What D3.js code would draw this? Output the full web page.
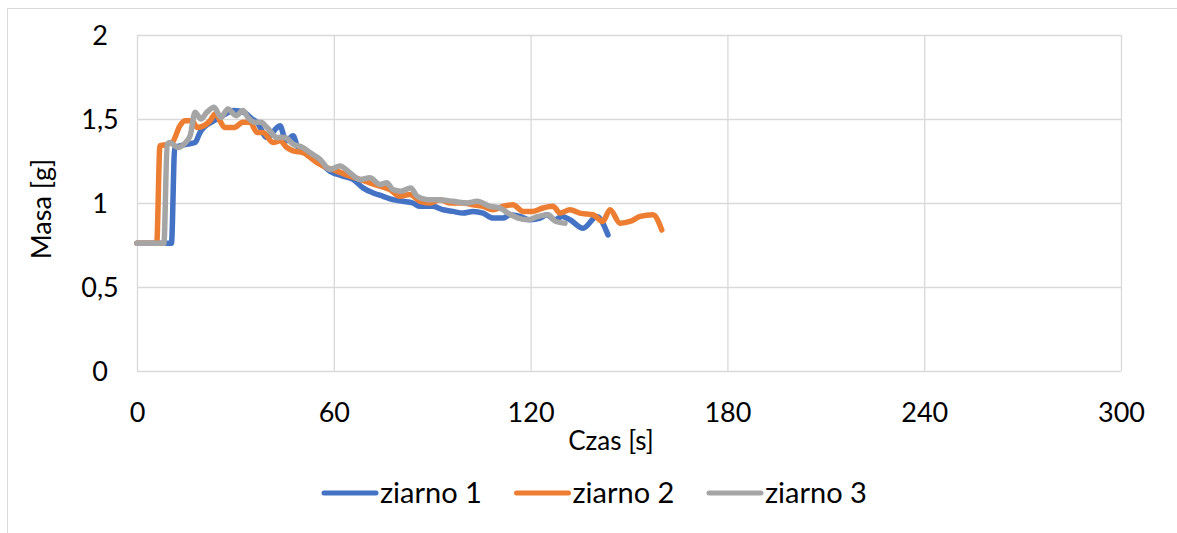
<!DOCTYPE html>
<html>
<head>
<meta charset="utf-8">
<script src="https://cdn.jsdelivr.net/npm/d3@7"></script>
<style>
  html, body { margin: 0; padding: 0; background: #fff; }
  svg { display: block; }
  text { font-family: Lato, "Open Sans", sans-serif; fill: #000; }
</style>
</head>
<body>
<svg id="chart" width="1177" height="533"></svg>
<script>
// Masa ziarna w funkcji czasu — pomiary [czas s, masa g]
const ziarno1 = [[0,0.76],[10.5,0.76],[11.5,1.33],[13.1,1.34],[15.2,1.35],[17.7,1.36],[19.2,1.42],[20.4,1.45],[23.5,1.49],[25.3,1.51],[29.6,1.55],[32.6,1.54],[35.1,1.50],[36.6,1.48],[39.6,1.39],[43.6,1.46],[45.4,1.37],[47.6,1.40],[49.1,1.33],[51.8,1.31],[54.9,1.26],[58.8,1.19],[62.8,1.16],[65.9,1.14],[68.9,1.09],[72,1.06],[75,1.04],[78,1.02],[81.1,1.01],[84.1,1.00],[86.3,0.98],[90.2,0.98],[93.3,0.96],[96.3,0.95],[99.4,0.94],[102.4,0.95],[105.5,0.94],[108.5,0.91],[111.6,0.91],[113.7,0.93],[116.8,0.92],[119.8,0.90],[122.9,0.91],[125,0.93],[127.4,0.90],[129.6,0.92],[132,0.90],[136,0.85],[140.2,0.92],[143.6,0.81]];
const ziarno2 = [[0,0.76],[6,0.76],[7,1.34],[8.2,1.345],[10.7,1.36],[13.1,1.46],[14.6,1.49],[16.8,1.49],[18.3,1.45],[20.4,1.46],[22.3,1.49],[23.8,1.53],[26.8,1.45],[29.6,1.45],[32.3,1.48],[34.5,1.48],[36.6,1.42],[38.4,1.42],[41.5,1.36],[43.6,1.37],[45.7,1.33],[47.6,1.31],[50.6,1.30],[54.9,1.24],[57.9,1.21],[61,1.19],[63.4,1.17],[68,1.14],[71,1.12],[74.1,1.10],[77.1,1.08],[80.2,1.04],[83.2,1.05],[86.3,1.01],[89.3,1.00],[92.4,1.02],[95.4,1.00],[99.4,1.00],[102.4,0.99],[105.5,0.98],[108.5,0.96],[111.6,0.98],[114.6,0.99],[117.7,0.95],[120.7,0.95],[123.8,0.97],[126.8,0.98],[129,0.94],[132,0.96],[135,0.94],[139,0.93],[142,0.89],[144.2,0.96],[147.3,0.88],[150.3,0.89],[153.4,0.92],[157.3,0.93],[160,0.84]];
const ziarno3 = [[0,0.76],[8.2,0.76],[9.2,1.35],[10,1.36],[12.5,1.33],[14.3,1.35],[16.2,1.40],[17.7,1.54],[19.5,1.50],[21.3,1.54],[23.5,1.57],[25.6,1.51],[27.7,1.56],[30.2,1.52],[32.3,1.55],[33.8,1.51],[36,1.48],[37.8,1.48],[39.6,1.45],[42.7,1.39],[45.1,1.39],[47.6,1.35],[50.6,1.33],[52.7,1.30],[55.8,1.26],[58.8,1.20],[61.9,1.22],[64.9,1.18],[68,1.14],[71,1.15],[74.1,1.11],[76.2,1.12],[78,1.08],[80.5,1.07],[83.5,1.09],[85.4,1.04],[88.7,1.02],[91.8,1.02],[96.3,1.01],[100.6,1.00],[103.7,1.01],[107.6,0.98],[110.7,0.97],[113.1,0.94],[116.2,0.91],[119.2,0.90],[122.3,0.92],[125.3,0.93],[127.7,0.89],[130.5,0.88]];

const seriesNames = ["ziarno 1", "ziarno 2", "ziarno 3"];
const seriesColors = ["#4472C4", "#ED7D31", "#A5A5A5"];
const xTicks = [0, 60, 120, 180, 240, 300];
const yTicks = [0, 0.5, 1, 1.5, 2];
const xTitle = "Czas [s]";
const yTitle = "Masa [g]";

const svg = d3.select("#chart");
const plot = { left: 137, right: 1121, top: 35, bottom: 371 };

const x = d3.scaleLinear().domain([0, 300]).range([plot.left, plot.right]);
const y = d3.scaleLinear().domain([0, 2]).range([plot.bottom, plot.top]);

// outer chart frame
svg.append("rect")
  .attr("x", 7.5).attr("y", 8.5)
  .attr("width", 1300).attr("height", 600)
  .attr("fill", "#fff").attr("stroke", "#D9D9D9").attr("stroke-width", 1);

const fmt = d => String(d).replace(".", ",");

// horizontal gridlines + y labels
const yAxis = svg.append("g")
  .attr("transform", `translate(${plot.left},0)`)
  .call(d3.axisLeft(y).tickValues(yTicks).tickFormat(fmt)
    .tickSize(-(plot.right - plot.left)).tickPadding(0));
yAxis.select(".domain").remove();
yAxis.selectAll(".tick line").attr("stroke", "#D9D9D9").attr("stroke-width", 1.3);
yAxis.selectAll(".tick text")
  .attr("x", -37).attr("dy", "0.36em")
  .attr("text-anchor", "middle")
  .style("font-size", "27px");

// vertical gridlines + x labels
const xAxis = svg.append("g")
  .attr("transform", `translate(0,${plot.bottom})`)
  .call(d3.axisBottom(x).tickValues(xTicks).tickFormat(d3.format("d"))
    .tickSize(-(plot.bottom - plot.top)).tickPadding(0));
xAxis.select(".domain").remove();
xAxis.selectAll(".tick line").attr("stroke", "#D9D9D9").attr("stroke-width", 1.3);
xAxis.selectAll(".tick text")
  .attr("y", 41).attr("dy", "0.36em")
  .style("font-size", "27px");

// axis titles
svg.append("text")
  .attr("x", 611).attr("y", 441).attr("dy", "0.36em")
  .attr("text-anchor", "middle")
  .style("font-size", "26px")
  .text(xTitle);

svg.append("text")
  .attr("transform", `translate(41,${(plot.top + plot.bottom) / 2 + 6}) rotate(-90)`)
  .attr("dy", "0.36em")
  .attr("text-anchor", "middle")
  .style("font-size", "27px")
  .text(yTitle);

// data lines
const line = d3.line()
  .x(d => x(d[0]))
  .y(d => y(d[1]))
  .curve(d3.curveMonotoneX);

[ziarno1, ziarno2, ziarno3].forEach((data, i) => {
  svg.append("path")
    .datum(data)
    .attr("fill", "none")
    .attr("stroke", seriesColors[i])
    .attr("stroke-width", 5.5)
    .attr("stroke-linejoin", "round")
    .attr("stroke-linecap", "round")
    .attr("d", line);
});

// legend
const legendX = [322, 514.5, 707];
const legend = svg.append("g");
seriesNames.forEach((name, i) => {
  const g = legend.append("g").attr("transform", `translate(${legendX[i]},493)`);
  g.append("line")
    .attr("x1", 2).attr("x2", 54).attr("y1", 0).attr("y2", 0)
    .attr("stroke", seriesColors[i]).attr("stroke-width", 5)
    .attr("stroke-linecap", "round");
  g.append("text")
    .attr("x", 58).attr("dy", "0.36em")
    .style("font-size", "29px")
    .text(name);
});
</script>
</body>
</html>
